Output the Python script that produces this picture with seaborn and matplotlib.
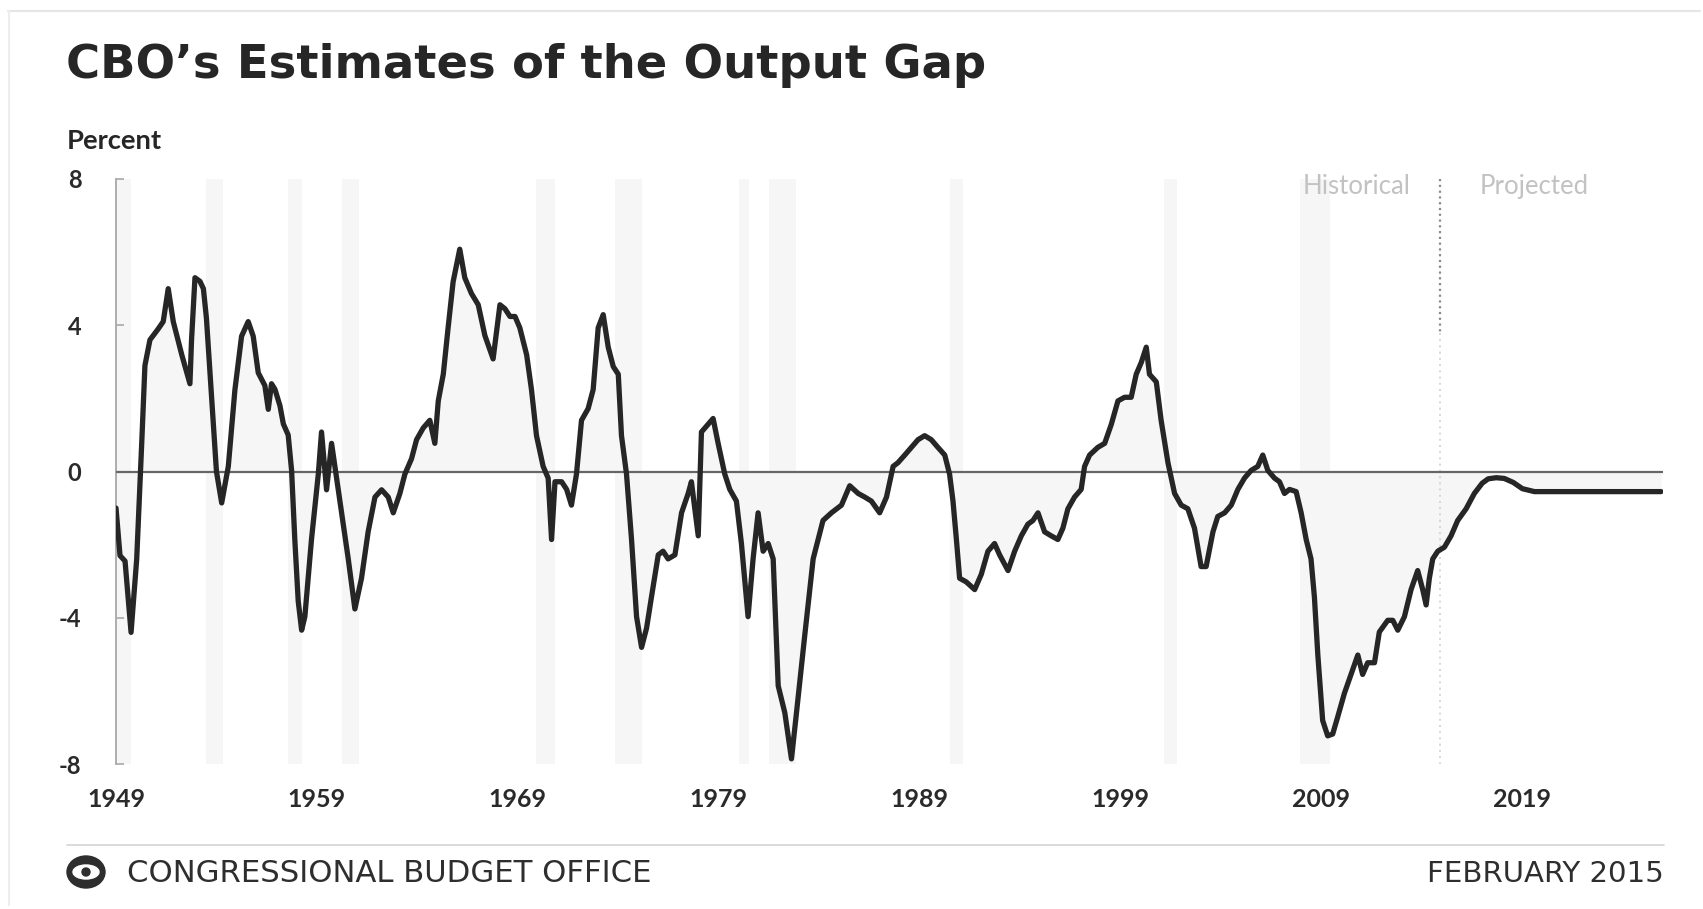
import numpy as np
import pandas as pd
import matplotlib
matplotlib.use("Agg")
import matplotlib.pyplot as plt
import seaborn as sns
from matplotlib.patches import Ellipse
from matplotlib.lines import Line2D

# ---------------- data ----------------
gap_years = [
    1949.0, 1949.2, 1949.45, 1949.75, 1950.03, 1950.28, 1950.44, 1950.69, 1951.1, 1951.35,
    1951.6, 1951.85, 1952.27, 1952.68, 1952.76, 1952.93, 1953.18, 1953.35, 1953.5, 1953.76,
    1954.0, 1954.26, 1954.59, 1954.92, 1955.25, 1955.58, 1955.83, 1956.08, 1956.41, 1956.58,
    1956.74, 1956.91, 1957.16, 1957.33, 1957.57, 1957.74, 1957.9, 1958.07, 1958.24, 1958.4,
    1958.73, 1959.07, 1959.23, 1959.48, 1959.73, 1959.98, 1960.23, 1960.56, 1960.89, 1961.22,
    1961.55, 1961.89, 1962.22, 1962.55, 1962.8, 1963.13, 1963.38, 1963.71, 1963.96, 1964.29,
    1964.62, 1964.87, 1965.04, 1965.29, 1965.53, 1965.78, 1966.11, 1966.36, 1966.69, 1967.03,
    1967.36, 1967.77, 1968.11, 1968.36, 1968.61, 1968.86, 1969.1, 1969.44, 1969.68, 1969.93,
    1970.26, 1970.51, 1970.68, 1970.85, 1971.18, 1971.43, 1971.67, 1971.92, 1972.17, 1972.5,
    1972.75, 1973.0, 1973.25, 1973.5, 1973.75, 1974.0, 1974.16, 1974.41, 1974.66, 1974.91,
    1975.16, 1975.41, 1975.65, 1975.99, 1976.23, 1976.48, 1976.82, 1977.15, 1977.48, 1977.64,
    1977.81, 1977.98, 1978.14, 1978.47, 1978.72, 1978.97, 1979.3, 1979.55, 1979.88, 1980.13,
    1980.46, 1980.71, 1980.96, 1981.21, 1981.46, 1981.71, 1981.96, 1982.29, 1982.62, 1982.87,
    1983.28, 1983.7, 1984.19, 1984.61, 1985.11, 1985.52, 1985.94, 1986.27, 1986.6, 1987.01,
    1987.35, 1987.68, 1987.92, 1988.26, 1988.59, 1988.92, 1989.25, 1989.58, 1989.91, 1990.25,
    1990.49, 1990.66, 1990.83, 1990.99, 1991.32, 1991.74, 1992.07, 1992.4, 1992.73, 1992.98,
    1993.4, 1993.73, 1994.06, 1994.39, 1994.64, 1994.89, 1995.22, 1995.55, 1995.88, 1996.13,
    1996.38, 1996.71, 1997.04, 1997.21, 1997.46, 1997.87, 1998.21, 1998.54, 1998.87, 1999.2,
    1999.53, 1999.78, 2000.03, 2000.28, 2000.44, 2000.78, 2001.02, 2001.36, 2001.69, 2002.02,
    2002.35, 2002.68, 2003.01, 2003.26, 2003.6, 2003.84, 2004.18, 2004.51, 2004.84, 2005.17,
    2005.5, 2005.83, 2006.08, 2006.33, 2006.66, 2006.91, 2007.16, 2007.41, 2007.74, 2007.99,
    2008.24, 2008.48, 2008.65, 2008.82, 2009.06, 2009.31, 2009.56, 2009.81, 2010.14, 2010.47,
    2010.81, 2011.05, 2011.3, 2011.64, 2011.88, 2012.3, 2012.55, 2012.8, 2013.13, 2013.46,
    2013.79, 2014.04, 2014.21, 2014.37, 2014.54, 2014.79, 2015.12, 2015.45, 2015.78, 2016.2,
    2016.61, 2017.0, 2017.3, 2017.7, 2018.1, 2018.55, 2019.0, 2019.6, 2020.5, 2022.0,
    2024.0, 2025.9,
]
gap_values = [
    -1.0, -2.3, -2.45, -4.4, -2.4, 0.77, 2.9, 3.6, 3.9, 4.1,
    5.0, 4.1, 3.2, 2.4, 3.6, 5.3, 5.2, 5.0, 4.2, 2.0,
    0.0, -0.86, 0.14, 2.24, 3.7, 4.1, 3.7, 2.7, 2.35, 1.7,
    2.4, 2.25, 1.8, 1.3, 1.0, 0.03, -1.86, -3.55, -4.34, -3.97,
    -1.86, -0.07, 1.08, -0.5, 0.77, -0.18, -1.13, -2.39, -3.76, -2.92,
    -1.65, -0.7, -0.5, -0.7, -1.13, -0.6, -0.07, 0.35, 0.87, 1.19,
    1.4, 0.77, 1.93, 2.66, 3.93, 5.19, 6.08, 5.3, 4.87, 4.56,
    3.72, 3.08, 4.56, 4.45, 4.24, 4.24, 3.93, 3.19, 2.24, 0.98,
    0.14, -0.18, -1.86, -0.28, -0.28, -0.49, -0.92, -0.07, 1.4, 1.72,
    2.24, 3.93, 4.29, 3.4, 2.87, 2.66, 0.98, -0.07, -1.86, -3.97,
    -4.81, -4.28, -3.44, -2.28, -2.18, -2.39, -2.28, -1.13, -0.6, -0.28,
    -1.02, -1.76, 1.08, 1.29, 1.45, 0.77, -0.07, -0.49, -0.81, -1.97,
    -3.97, -2.39, -1.13, -2.18, -1.97, -2.39, -5.86, -6.6, -7.86, -6.6,
    -4.49, -2.39, -1.34, -1.13, -0.92, -0.39, -0.6, -0.7, -0.81, -1.13,
    -0.7, 0.14, 0.24, 0.45, 0.66, 0.87, 0.98, 0.87, 0.66, 0.45,
    -0.07, -0.81, -1.86, -2.92, -3.02, -3.23, -2.81, -2.18, -1.97, -2.28,
    -2.71, -2.18, -1.76, -1.44, -1.34, -1.13, -1.65, -1.76, -1.86, -1.55,
    -1.02, -0.7, -0.49, 0.14, 0.45, 0.66, 0.77, 1.29, 1.93, 2.03,
    2.03, 2.66, 2.98, 3.4, 2.66, 2.45, 1.4, 0.24, -0.6, -0.92,
    -1.02, -1.55, -2.6, -2.6, -1.65, -1.23, -1.13, -0.92, -0.49, -0.18,
    0.03, 0.14, 0.45, 0.03, -0.18, -0.28, -0.6, -0.49, -0.55, -1.13,
    -1.86, -2.39, -3.44, -5.02, -6.81, -7.23, -7.18, -6.71, -6.07, -5.55,
    -5.02, -5.55, -5.23, -5.23, -4.39, -4.07, -4.07, -4.34, -3.97, -3.23,
    -2.71, -3.23, -3.65, -2.92, -2.39, -2.18, -2.07, -1.76, -1.34, -1.02,
    -0.6, -0.32, -0.2, -0.17, -0.19, -0.3, -0.47, -0.55, -0.55, -0.55,
    -0.55, -0.55,
]

recession_starts = [1948.83, 1953.5, 1957.58, 1960.25, 1969.92, 1973.83, 1980.0, 1981.5, 1990.5, 2001.17, 2007.92]
recession_ends   = [1949.75, 1954.33, 1958.25, 1961.08, 1970.83, 1975.17, 1980.5, 1982.83, 1991.17, 2001.83, 2009.42]

projection_start = 2014.9
x_tick_years = [1949, 1959, 1969, 1979, 1989, 1999, 2009, 2019]
y_tick_values = [-8, -4, 0, 4, 8]

title_text = "CBO\u2019s Estimates of the Output Gap"
unit_text = "Percent"
source_text = "CONGRESSIONAL BUDGET OFFICE"
date_text = "FEBRUARY 2015"

# ---------------- styling ----------------
sns.set_theme(style="white")
plt.rcParams["font.family"] = ["Lato", "DejaVu Sans"]

W, H = 1703, 909
fig = plt.figure(figsize=(W / 100, H / 100), dpi=100)
fig.patch.set_facecolor("white")
renderer = fig.canvas.get_renderer()


def fx(px):
    return px / W


def fy(py):
    return 1 - py / H


def fit_width(txt, target_px):
    """Scale a text's font size so that its rendered width is target_px."""
    w = txt.get_window_extent(renderer=renderer).width
    if w > 0:
        txt.set_fontsize(txt.get_fontsize() * target_px / w)


ax_left, ax_right, ax_top, ax_bot = 116, 1663, 179, 764
ax = fig.add_axes([fx(ax_left), fy(ax_bot), fx(ax_right - ax_left), (ax_bot - ax_top) / H])
ax.set_facecolor("white")

df = pd.DataFrame({"year": gap_years, "gap": gap_values})

for s, e in zip(recession_starts, recession_ends):
    ax.axvspan(max(s, 1949.0), e, color="#f6f6f6", lw=0, zorder=0)

ax.fill_between(df["year"], df["gap"], 0, color="#f6f6f6", lw=0, zorder=1)

ax.axhline(0, color="#666666", lw=1.6, zorder=3)

# dotted divider between historical and projected
ax.plot([projection_start, projection_start], [8, 3.8], color="#8a8a8a", lw=1.6,
        ls=(0, (1, 1.6)), zorder=2)
ax.plot([projection_start, projection_start], [3.8, -8], color="#d6d6d6", lw=1.4,
        ls=(0, (1, 2.2)), zorder=2)

sns.lineplot(data=df, x="year", y="gap", ax=ax, color="#262626", lw=3.8,
             estimator=None, sort=False, zorder=4, legend=False)

ax.set_xlim(1949, 2026)
ax.set_ylim(-8, 8)
ax.set_xlabel("")
ax.set_ylabel("")

for side in ["top", "right", "bottom"]:
    ax.spines[side].set_visible(False)
ax.spines["left"].set_color("#a8a8a8")
ax.spines["left"].set_linewidth(1.3)

ax.set_yticks(y_tick_values)
ax.set_yticklabels([str(v) for v in y_tick_values])
ax.set_xticks(x_tick_years)
ax.set_xticklabels([str(v) for v in x_tick_years])
ax.tick_params(axis="y", direction="in", length=6, width=1.2, color="#a8a8a8",
               pad=25, labelsize=17, labelcolor="#2a2a2a", left=True)
ax.tick_params(axis="x", length=0, pad=17, labelsize=18, labelcolor="#2a2a2a", bottom=False)
for lab in ax.get_xticklabels() + ax.get_yticklabels():
    lab.set_fontweight("bold")

# Historical / Projected labels
ax.text(2010.75, 7.8, "Historical", ha="center", va="center", fontsize=18.5,
        color="#c2c2c2", zorder=5)
ax.text(2019.6, 7.8, "Projected", ha="center", va="center", fontsize=18.5,
        color="#c2c2c2", zorder=5)

# ---------------- figure texts ----------------
t_title = fig.text(fx(66), fy(78), title_text, ha="left", va="baseline", fontsize=32,
                   fontweight="bold", color="#262626", family=["DejaVu Sans"])
fit_width(t_title, 922)

t_unit = fig.text(fx(67), fy(141), unit_text, ha="left", va="center", fontsize=19,
                  fontweight="bold", color="#262626")
fit_width(t_unit, 95)

# footer rule
fig.add_artist(Line2D([fx(67), fx(1664)], [fy(845), fy(845)], transform=fig.transFigure,
                      color="#d4d4d4", lw=1.2))
# faint outer frame
fig.add_artist(Line2D([fx(8), fx(1700)], [fy(11), fy(11)], transform=fig.transFigure,
                      color="#e6e6e6", lw=1.5))
fig.add_artist(Line2D([fx(9), fx(9)], [fy(11), fy(905)], transform=fig.transFigure,
                      color="#ededed", lw=1.5))

# CBO emblem (simple drawn logo)
fig.add_artist(Ellipse((fx(86), fy(872)), 38 / W, 32 / H, transform=fig.transFigure,
                       color="#2e2e2e", zorder=5))
fig.add_artist(Ellipse((fx(86), fy(872)), 26 / W, 14 / H, transform=fig.transFigure,
                       color="white", zorder=6))
fig.add_artist(Ellipse((fx(86), fy(872)), 8 / W, 8 / H, transform=fig.transFigure,
                       color="#2e2e2e", zorder=7))

t_src = fig.text(fx(127), fy(882), source_text, ha="left", va="baseline", fontsize=18,
                 color="#2e2e2e", family=["DejaVu Sans"])
fit_width(t_src, 527)
t_date = fig.text(fx(1664), fy(882), date_text, ha="right", va="baseline", fontsize=17,
                  color="#2e2e2e", family=["DejaVu Sans"])
fit_width(t_date, 238)

fig.savefig("out.png", dpi=100, facecolor="white")
